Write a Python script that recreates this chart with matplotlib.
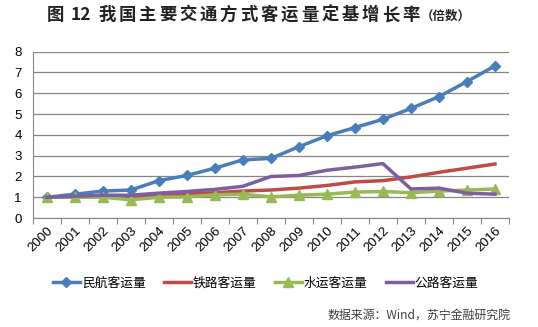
import matplotlib
matplotlib.use("Agg")
import matplotlib.pyplot as plt

plt.rcParams['font.family'] = ['Noto Sans CJK SC', 'DejaVu Sans']

years = [str(y) for y in range(2000, 2017)]
civil_aviation = [1.0, 1.15, 1.3, 1.35, 1.8, 2.05, 2.4, 2.8, 2.87, 3.43, 3.96, 4.35, 4.75, 5.27, 5.84, 6.56, 7.32]
railway = [1.0, 1.03, 1.06, 1.02, 1.12, 1.15, 1.22, 1.3, 1.35, 1.44, 1.57, 1.74, 1.8, 1.98, 2.2, 2.4, 2.6]
waterway = [1.0, 1.0, 1.0, 0.88, 1.0, 1.02, 1.12, 1.15, 1.02, 1.1, 1.15, 1.25, 1.28, 1.22, 1.3, 1.35, 1.4]
highway = [1.0, 1.05, 1.1, 1.1, 1.2, 1.28, 1.38, 1.53, 2.0, 2.05, 2.3, 2.45, 2.62, 1.4, 1.44, 1.2, 1.15]
series_names = ['民航客运量', '铁路客运量', '水运客运量', '公路客运量']
y_ticks = [0, 1, 2, 3, 4, 5, 6, 7, 8]

W, H = 538, 327
fig = plt.figure(figsize=(W / 100, H / 100), dpi=100)
ax = fig.add_axes([0.061, 0.333, 0.885, 0.509])
x = list(range(len(years)))

ax.plot(x, civil_aviation, color='#4a7ebb', lw=2.5, marker='D', ms=5.5, label=series_names[0])
ax.plot(x, railway, color='#be4b48', lw=2.5, label=series_names[1])
ax.plot(x, waterway, color='#98b954', lw=2.5, marker='^', ms=7.5, label=series_names[2])
ax.plot(x, highway, color='#7d5fa0', lw=2.5, label=series_names[3])

ax.set_xlim(-0.5, len(years) - 0.5)
ax.set_ylim(0, 8)
ax.set_yticks(y_ticks)
ax.set_xticks([i - 0.5 for i in range(len(years) + 1)], minor=False)
ax.set_xticklabels([])
ax.set_xticks(x, minor=True)
ax.set_xticklabels(years, minor=True, rotation=45, ha='right', rotation_mode='anchor', fontsize=9.5,
                   family=['Liberation Sans'])
ax.tick_params(axis='x', which='major', length=4, color='#868686')
ax.tick_params(axis='x', which='minor', length=0, pad=5)
ax.tick_params(axis='y', length=0, labelsize=9.5, pad=8)
for lbl in ax.get_yticklabels():
    lbl.set_family(['Liberation Sans'])
ax.yaxis.grid(True, color='#868686', lw=0.9)
ax.set_axisbelow(True)
for s in ['top', 'right']:
    ax.spines[s].set_visible(False)
ax.spines['bottom'].set_color('#868686')
ax.spines['left'].set_color('#868686')

# title with letter spacing
ty = 1 - 15 / H
tkw = dict(ha='left', va='center', fontsize=12.5, fontweight='bold', color='#222222')
fig.text(47 / W, ty, '图', **tkw)
fig.text(71 / W, ty, '12', **tkw)
for i, ch in enumerate('我国主要交通方式客运量定基增长率'):
    fig.text((98 + i * 20.3) / W, ty, ch, **tkw)
fig.text(421 / W, ty - 0.004, '（倍数）', ha='left', va='center', fontsize=9, fontweight='bold', color='#222222')

ax.legend(loc='center', bbox_to_anchor=(0.494, 1 - 283 / H), bbox_transform=fig.transFigure,
          ncol=4, frameon=False, fontsize=9.2, handlelength=2.1, columnspacing=1.45, handletextpad=0.15,
          borderaxespad=0)

fig.text(510 / W, 1 - 315 / H, '数据来源：Wind，苏宁金融研究院', ha='right', va='center', fontsize=8.6,
         style='italic', color='#404040')

fig.savefig('out.png', dpi=100)
